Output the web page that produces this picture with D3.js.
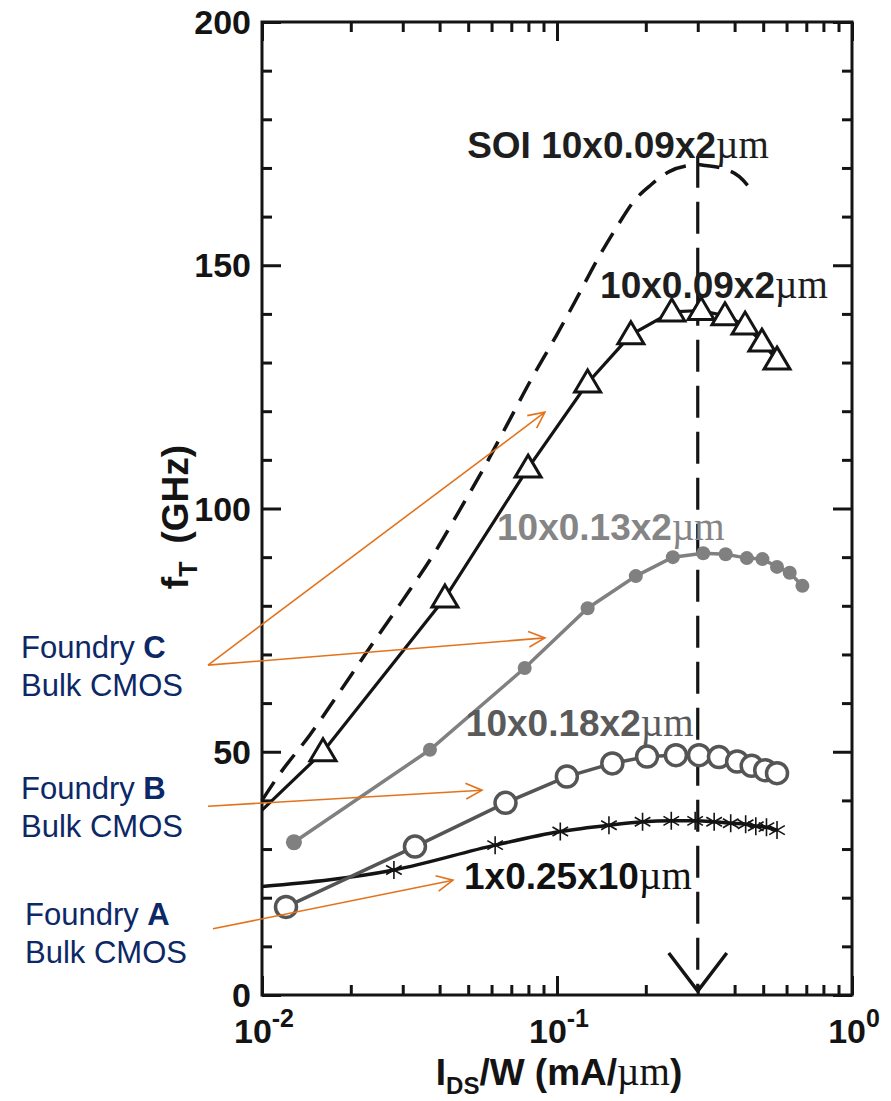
<!DOCTYPE html>
<html><head><meta charset="utf-8">
<script src="https://cdn.jsdelivr.net/npm/d3@7"></script>
<style>body{margin:0;background:#fff}</style>
</head><body>
<svg id="c" width="891" height="1101"></svg>
<script>
// ---------- data (x: IDS/W in mA/um, y: fT in GHz) ----------
const soiX = [0.01, 0.0115, 0.01455, 0.01796, 0.02266, 0.0295, 0.039, 0.0459, 0.0567, 0.0681, 0.0817, 0.0994, 0.115, 0.138, 0.16, 0.1824, 0.208, 0.241, 0.28, 0.3, 0.319, 0.364, 0.415, 0.465];
const soiY = [40, 45.5, 53.5, 61.5, 70.5, 80.5, 91.5, 98.8, 108.5, 117.5, 126.5, 135.5, 142.5, 151.5, 158, 163.2, 166.5, 169.3, 170.5, 170.7, 170.5, 169.9, 168.2, 164.8];

const triStart = [0.01, 38];
const triX = [0.0161, 0.0417, 0.0798, 0.127, 0.178, 0.245, 0.308, 0.371, 0.434, 0.495, 0.557];
const triY = [50, 81.6, 108.3, 125.8, 135.7, 140.4, 140.7, 139.6, 137.7, 134.2, 130.5];

const g13X = [0.01283, 0.0371, 0.0777, 0.127, 0.185, 0.247, 0.313, 0.373, 0.440, 0.497, 0.557, 0.615, 0.679];
const g13Y = [31.4, 50.4, 67.2, 79.5, 86.1, 90.0, 90.8, 90.6, 89.8, 89.6, 88.0, 86.8, 84.1];

const o18X = [0.01206, 0.0330, 0.0669, 0.108, 0.154, 0.202, 0.253, 0.303, 0.354, 0.408, 0.457, 0.508, 0.557];
const o18Y = [18.1, 30.5, 39.5, 44.9, 47.6, 49.0, 49.3, 49.3, 48.9, 48.0, 47.1, 46.2, 45.6];

const a25Start = [0.01, 22.3];
const a25X = [0.0280, 0.0617, 0.1026, 0.150, 0.195, 0.244, 0.294, 0.341, 0.388, 0.436, 0.472, 0.513, 0.557];
const a25Y = [25.7, 30.8, 33.6, 34.9, 35.6, 35.8, 35.8, 35.6, 35.3, 35.1, 34.7, 34.5, 33.9];

const peakX = 0.3, peakTop = 172.5;

const yMajor = [0, 50, 100, 150, 200];
const yMinor = d3.range(0, 201, 10).filter(v => v % 50 !== 0);
const xMajor = [0.01, 0.1, 1];
const xMajorExp = ["-2", "-1", "0"];
const xMinor = [2,3,4,5,6,7,8,9].map(k => k*0.01).concat([2,3,4,5,6,7,8,9].map(k => k*0.1));

// series labels: text, unit, anchor position in data coords
const seriesLabels = [
  {t: "SOI 10x0.09x2", u: "µm", x: 0.0496, y: 172.0, c: "#1e1e1e"},
  {t: "10x0.09x2", u: "µm", x: 0.140, y: 143.3, c: "#1e1e1e"},
  {t: "10x0.13x2", u: "µm", x: 0.0626, y: 93.5, c: "#858585"},
  {t: "10x0.18x2", u: "µm", x: 0.0491, y: 53.2, c: "#5a5a5a"},
  {t: "1x0.25x10", u: "µm", x: 0.0484, y: 21.8, c: "#111111"}
];
// foundry callouts: letter, arrow start (data coords), arrow tips
const foundryNames = ["C", "B", "A"];
const foundryStart = [[0.00656, 67.8], [0.00656, 38.8], [0.00682, 13.6]];
const foundryTips = [[[0.0910, 119.8], [0.0910, 73.4]], [[0.0557, 42.1]], [[0.0444, 23.6]]];
const foundryText = [[21, 658], [21, 799], [25, 925]];

// ---------- chart ----------
const svg = d3.select("#c");
const L = 262, R = 852, T = 22, B = 995;
const x = d3.scaleLog().domain([0.01, 1]).range([L, R]);
const y = d3.scaleLinear().domain([0, 200]).range([B, T]);
const SANS = "'Liberation Sans', Arial, Helvetica, sans-serif";
const SERIF = "'Liberation Serif', 'Times New Roman', serif";
const INK = "#141414";

// ticks
function axis(gen, tr, vals, size) {
  const g = svg.append("g").attr("transform", tr)
    .call(gen.tickValues(vals).tickSize(-size).tickSizeOuter(0).tickFormat(""));
  g.select(".domain").remove();
  g.selectAll("line").attr("stroke", INK).attr("stroke-width", 3);
  return g;
}
axis(d3.axisLeft(y), `translate(${L},0)`, yMajor, 19);
axis(d3.axisLeft(y), `translate(${L},0)`, yMinor, 10);
axis(d3.axisRight(y), `translate(${R},0)`, yMajor, 19);
axis(d3.axisRight(y), `translate(${R},0)`, yMinor, 10);
axis(d3.axisBottom(x), `translate(0,${B})`, xMajor, 19);
axis(d3.axisBottom(x), `translate(0,${B})`, xMinor, 10);
axis(d3.axisTop(x), `translate(0,${T})`, xMajor, 19);
axis(d3.axisTop(x), `translate(0,${T})`, xMinor, 10);

svg.append("rect").attr("x", L).attr("y", T).attr("width", R - L).attr("height", B - T)
  .attr("fill", "none").attr("stroke", INK).attr("stroke-width", 3);

// y tick labels
svg.append("g").selectAll("text").data(yMajor).join("text")
  .attr("x", L - 11).attr("y", d => y(d)).attr("dy", "0.36em")
  .attr("text-anchor", "end").attr("font-family", SANS).attr("font-weight", "bold")
  .attr("font-size", 34).attr("fill", INK).text(d => d);

// x tick labels
const xl = svg.append("g").selectAll("text").data(xMajor).join("text")
  .attr("x", d => x(d) + 2).attr("y", B + 48)
  .attr("text-anchor", "middle").attr("font-family", SANS).attr("font-weight", "bold")
  .attr("font-size", 34).attr("fill", INK);
xl.append("tspan").text("10");
xl.append("tspan").attr("dy", -16).attr("font-size", 25).text((d, i) => xMajorExp[i]);

// axis titles
const xt = svg.append("text").attr("x", (L + R) / 2 + 2).attr("y", 1085).attr("text-anchor", "middle")
  .attr("font-family", SANS).attr("font-weight", "bold").attr("font-size", 37).attr("fill", INK);
xt.append("tspan").text("I");
xt.append("tspan").attr("font-size", 24).attr("dy", 9).text("DS");
xt.append("tspan").attr("dy", -9).text("/W (mA/");
xt.append("tspan").attr("font-family", SERIF).attr("font-weight", "normal").attr("font-size", 39).text("µm");
xt.append("tspan").text(")");

const yt = svg.append("text").attr("transform", `translate(188,517) rotate(-90)`).attr("text-anchor", "middle")
  .attr("font-family", SANS).attr("font-weight", "bold").attr("font-size", 37).attr("fill", INK);
yt.append("tspan").text("f");
yt.append("tspan").attr("font-size", 25).attr("dy", 9).text("T");
yt.append("tspan").attr("dy", -9).attr("dx", 18).text("(GHz)");

// lines
const lineSmooth = d3.line().x(d => x(d[0])).y(d => y(d[1])).curve(d3.curveMonotoneX);
const lineStraight = d3.line().x(d => x(d[0])).y(d => y(d[1]));
const zip = (xs, ys) => xs.map((v, i) => [v, ys[i]]);

const soi = zip(soiX, soiY);
const tri = [triStart].concat(zip(triX, triY));
const g13 = zip(g13X, g13Y);
const o18 = zip(o18X, o18Y);
const a25 = [a25Start].concat(zip(a25X, a25Y));

// vertical dashed marker line
svg.append("line").attr("x1", x(peakX)).attr("x2", x(peakX)).attr("y1", y(peakTop)).attr("y2", y(0) - 4)
  .attr("stroke", INK).attr("stroke-width", 3.2).attr("stroke-dasharray", "32,14");
svg.append("path")
  .attr("d", `M${x(peakX) - 29},${y(0) - 42} L${x(peakX)},${y(0) - 4} L${x(peakX) + 29},${y(0) - 42}`)
  .attr("fill", "none").attr("stroke", INK).attr("stroke-width", 3.5);

svg.append("path").attr("d", lineSmooth(soi)).attr("fill", "none").attr("stroke", INK)
  .attr("stroke-width", 3.5).attr("stroke-dasharray", "22,12");

svg.append("path").attr("d", lineSmooth(a25)).attr("fill", "none").attr("stroke", INK).attr("stroke-width", 3.5);
svg.append("path").attr("d", lineStraight(o18)).attr("fill", "none").attr("stroke", "#555").attr("stroke-width", 3.5);
svg.append("path").attr("d", lineStraight(g13)).attr("fill", "none").attr("stroke", "#808080").attr("stroke-width", 3.5);
svg.append("path").attr("d", lineStraight(tri)).attr("fill", "none").attr("stroke", INK).attr("stroke-width", 3.2);

// markers
const ast = svg.append("g");
zip(a25X, a25Y).forEach(d => {
  const cx = x(d[0]), cy = y(d[1]), r = 9;
  let p = "";
  [90, 30, 150].forEach(a => {
    const dx = r * Math.cos(a * Math.PI / 180), dy = r * Math.sin(a * Math.PI / 180);
    p += `M${cx - dx},${cy - dy}L${cx + dx},${cy + dy}`;
  });
  ast.append("path").attr("d", p).attr("stroke", INK).attr("stroke-width", 1.6);
});

svg.append("g").selectAll("circle").data(o18).join("circle")
  .attr("cx", d => x(d[0])).attr("cy", d => y(d[1])).attr("r", 10.5)
  .attr("fill", "#fff").attr("stroke", "#555").attr("stroke-width", 3.5);

svg.append("g").selectAll("circle").data(g13).join("circle")
  .attr("cx", d => x(d[0])).attr("cy", d => y(d[1])).attr("r", (d, i) => i === 0 ? 8 : 7)
  .attr("fill", "#808080");

svg.append("g").selectAll("path").data(zip(triX, triY)).join("path")
  .attr("d", d => { const cx = x(d[0]), cy = y(d[1]); return `M${cx},${cy - 13}L${cx + 13},${cy + 9}L${cx - 13},${cy + 9}Z`; })
  .attr("fill", "#fff").attr("stroke", INK).attr("stroke-width", 3);

// series labels
seriesLabels.forEach(s => {
  const t = svg.append("text").attr("x", x(s.x)).attr("y", y(s.y))
    .attr("font-family", SANS).attr("font-weight", "bold").attr("font-size", 37).attr("fill", s.c);
  t.append("tspan").text(s.t);
  t.append("tspan").attr("font-family", SERIF).attr("font-weight", "normal").attr("font-size", 39).text(s.u);
});

// foundry callouts
const ORANGE = "#e2731c", NAVY = "#0c2866";
foundryNames.forEach((n, i) => {
  const [tx, ty] = foundryText[i];
  const t1 = svg.append("text").attr("x", tx).attr("y", ty).attr("font-family", SANS)
    .attr("font-size", 31).attr("fill", NAVY);
  t1.append("tspan").text("Foundry ");
  t1.append("tspan").attr("font-weight", "bold").text(n);
  svg.append("text").attr("x", tx).attr("y", ty + 38).attr("font-family", SANS)
    .attr("font-size", 31).attr("fill", NAVY).text("Bulk CMOS");
  const s = foundryStart[i];
  foundryTips[i].forEach(tp => {
    const x0 = x(s[0]), y0 = y(s[1]), x1 = x(tp[0]), y1 = y(tp[1]);
    const ang = Math.atan2(y1 - y0, x1 - x0), hl = 18, ha = 0.45;
    svg.append("line").attr("x1", x0).attr("y1", y0).attr("x2", x1).attr("y2", y1)
      .attr("stroke", ORANGE).attr("stroke-width", 1.6);
    svg.append("path")
      .attr("d", `M${x1 - hl * Math.cos(ang - ha)},${y1 - hl * Math.sin(ang - ha)}L${x1},${y1}L${x1 - hl * Math.cos(ang + ha)},${y1 - hl * Math.sin(ang + ha)}`)
      .attr("fill", "none").attr("stroke", ORANGE).attr("stroke-width", 1.6);
  });
});
</script>
</body></html>
